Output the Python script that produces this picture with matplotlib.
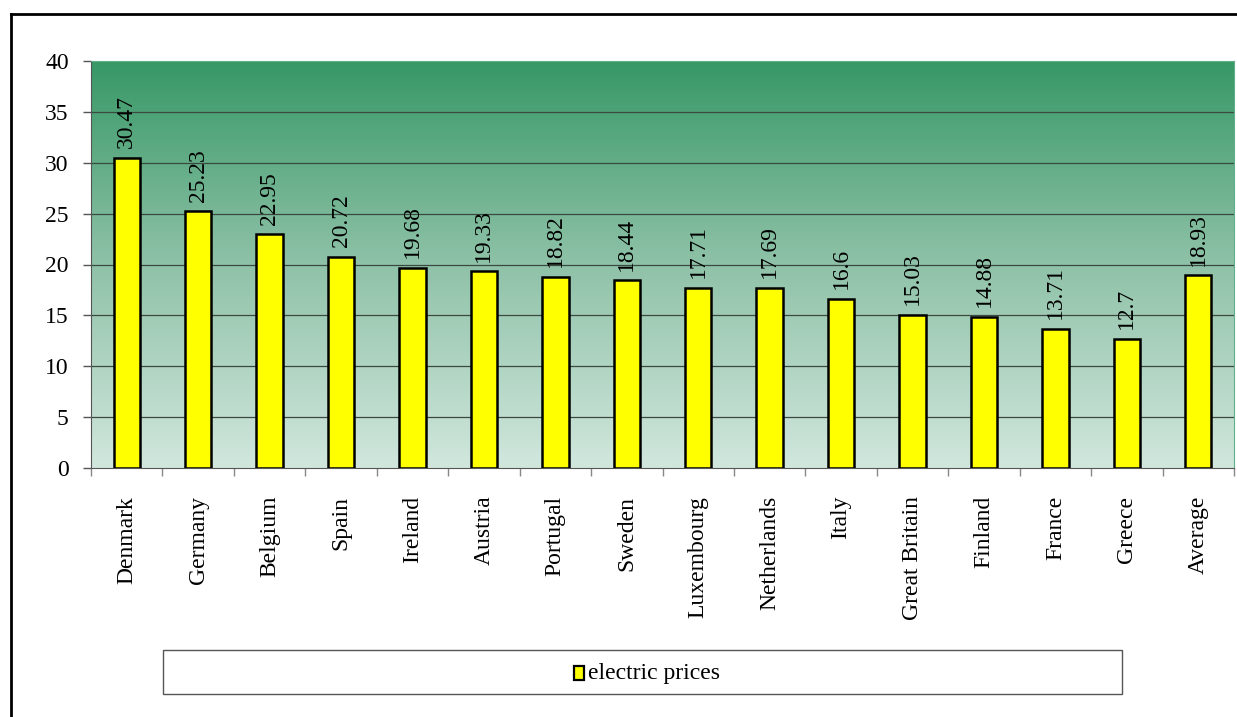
import numpy as np
import matplotlib
matplotlib.use("Agg")
import matplotlib.pyplot as plt
from matplotlib.colors import LinearSegmentedColormap
from matplotlib.patches import Rectangle
from matplotlib.lines import Line2D

countries = ["Denmark", "Germany", "Belgium", "Spain", "Ireland", "Austria",
             "Portugal", "Sweden", "Luxembourg", "Netherlands", "Italy",
             "Great Britain", "Finland", "France", "Greece", "Average"]
prices = [30.47, 25.23, 22.95, 20.72, 19.68, 19.33, 18.82, 18.44, 17.71,
          17.69, 16.6, 15.03, 14.88, 13.71, 12.7, 18.93]
price_labels = ["30.47", "25.23", "22.95", "20.72", "19.68", "19.33", "18.82",
                "18.44", "17.71", "17.69", "16.6", "15.03", "14.88", "13.71",
                "12.7", "18.93"]
yticks = [0, 5, 10, 15, 20, 25, 30, 35, 40]

plt.rcParams['font.family'] = ['Liberation Serif', 'DejaVu Serif']

W, H = 1237, 717
fig = plt.figure(figsize=(W / 100, H / 100), dpi=100)
ax = fig.add_axes([91 / W, 1 - 468 / H, (1234 - 91) / W, (468 - 61) / H])

n = len(countries)
x = np.arange(n)
ax.set_xlim(-0.5, n - 0.5)
ax.set_ylim(0, 40)

# green gradient background
cmap = LinearSegmentedColormap.from_list("g", ["#d1e7dd", "#8fc2a8", "#379866"])
grad = np.linspace(0, 1, 256).reshape(-1, 1)
ax.imshow(grad, aspect="auto", cmap=cmap, origin="lower",
          extent=(-0.5, n - 0.5, 0, 40), zorder=0)

for y in yticks[1:-1]:
    ax.axhline(y, color="#3a4a40", lw=0.9, zorder=1)

ax.bar(x, prices, width=0.37, color="#ffff00", edgecolor="black", lw=1.8, zorder=3)
for xi, v, lab in zip(x, prices, price_labels):
    ax.annotate(lab, (xi, v), xytext=(0, 7), textcoords="offset points",
                rotation=90, ha="center", va="bottom", fontsize=17, zorder=4)

ax.set_yticks(yticks)
ax.set_yticklabels([str(t) for t in yticks], fontsize=17)
ax.set_xticks(x)
ax.set_xticklabels(countries, rotation=90, fontsize=17)
ax.tick_params(axis="x", length=0, pad=20)
ax.set_xticks(np.arange(-0.5, n, 1), minor=True)
ax.tick_params(axis="x", which="minor", length=6, color="#888888", width=1)
ax.tick_params(axis="y", length=6, color="#555555", width=1, pad=10)
for s in ["top", "right"]:
    ax.spines[s].set_color("#5fb08a")
ax.spines["left"].set_color("#555555")
ax.spines["bottom"].set_color("#555555")

# legend box
fig.patches.append(Rectangle((163 / W, 1 - 694 / H), (1122 - 163) / W, 44 / H,
                             transform=fig.transFigure, fill=False,
                             edgecolor="#555555", lw=1))
fig.patches.append(Rectangle((574 / W, 1 - 680 / H), 10 / W, 14 / H,
                             transform=fig.transFigure, facecolor="#ffff00",
                             edgecolor="black", lw=1.6))
fig.text(588 / W, 1 - 673 / H, "electric prices", fontsize=17, va="center", ha="left")

# outer frame
fig.lines.append(Line2D([11 / W, 11 / W], [0, 1 - 14 / H], transform=fig.transFigure,
                        color="black", lw=2))
fig.lines.append(Line2D([11 / W, 1], [1 - 14 / H, 1 - 14 / H], transform=fig.transFigure,
                        color="black", lw=2))

fig.savefig("out.png", dpi=100)
